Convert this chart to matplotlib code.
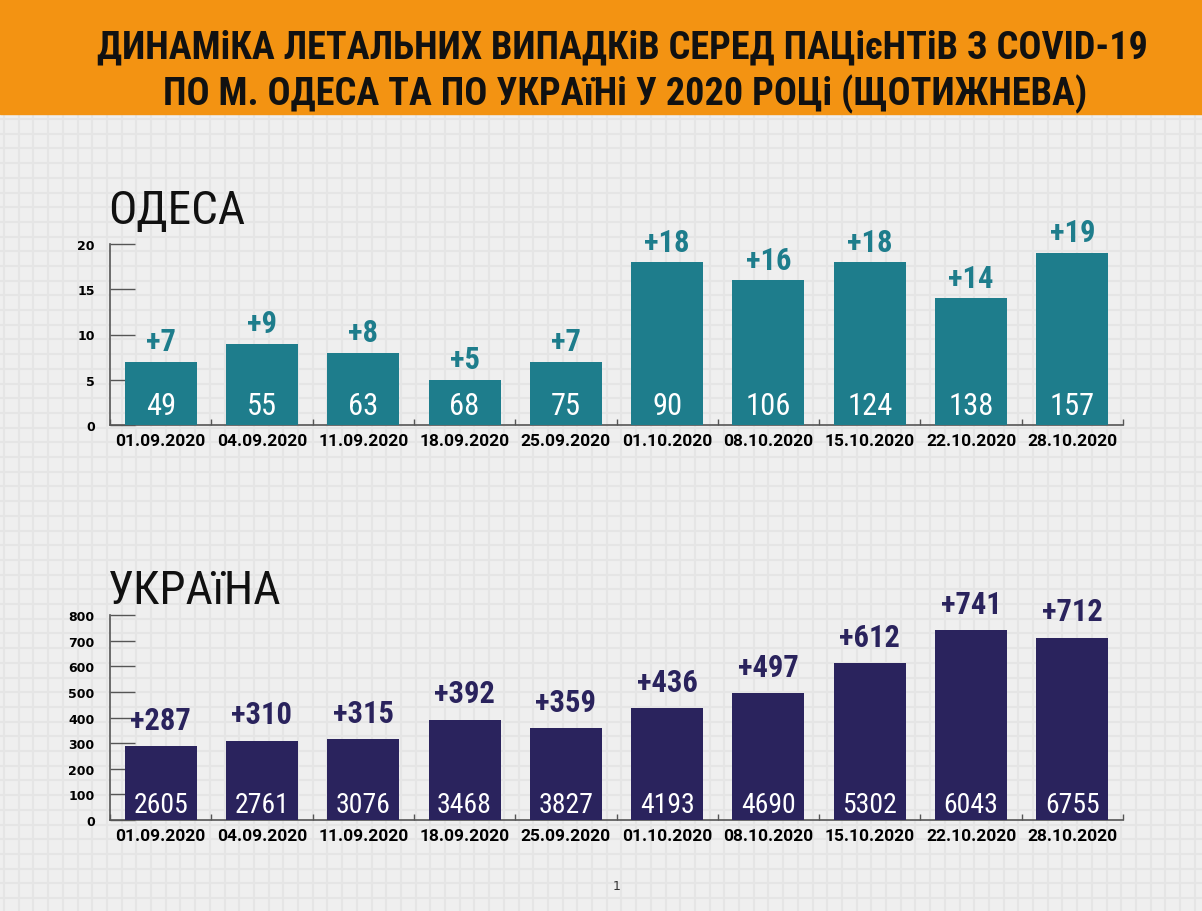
import numpy as np
import matplotlib
matplotlib.use('Agg')
import matplotlib.pyplot as plt
from matplotlib import font_manager as fm

dates = ['01.09.2020', '04.09.2020', '11.09.2020', '18.09.2020', '25.09.2020',
         '01.10.2020', '08.10.2020', '15.10.2020', '22.10.2020', '28.10.2020']
odesa_weekly = [7, 9, 8, 5, 7, 18, 16, 18, 14, 19]
odesa_total = [49, 55, 63, 68, 75, 90, 106, 124, 138, 157]
ukr_weekly = [287, 310, 315, 392, 359, 436, 497, 612, 741, 712]
ukr_total = [2605, 2761, 3076, 3468, 3827, 4193, 4690, 5302, 6043, 6755]
odesa_ticks = [0, 5, 10, 15, 20]
ukr_ticks = [0, 100, 200, 300, 400, 500, 600, 700, 800]

TITLE = ['ДИНАМіКА ЛЕТАЛЬНИХ ВИПАДКіВ СЕРЕД ПАЦієНТіВ З COVID-19',
         'ПО М. ОДЕСА ТА ПО УКРАїНі У 2020 РОЦі (ЩОТИЖНЕВА)']

names = {f.name for f in fm.fontManager.ttflist}
cond = [n for n in ('Roboto Condensed', 'Liberation Sans Narrow', 'Open Sans Condensed',
                    'Noto Sans Condensed', 'DejaVu Sans Condensed') if n in names]
NARROW = cond + ['DejaVu Sans']
LBL = ['Roboto', 'DejaVu Sans']
TEAL, NAVY, ORANGE = '#1E7D8C', '#2A235D', '#F39312'
BG, GRID = '#efefef', '#e5e5e5'

W, H = 1202, 912
fig = plt.figure(figsize=(W / 100, H / 100), dpi=100, facecolor=BG)

# background: squared paper + orange header
bg = fig.add_axes([0, 0, 1, 1], zorder=-5)
bg.set_xlim(0, W); bg.set_ylim(H, 0); bg.axis('off')
for gx in np.arange(4, W, 14.7):
    bg.axvline(gx, color=GRID, lw=1.5, zorder=1)
for gy in np.arange(120, H, 14.7):
    bg.axhline(gy, color=GRID, lw=1.5, zorder=1)
bg.axhspan(0, 115, color=ORANGE, zorder=2)
kw = dict(family=NARROW, fontstretch='condensed', color='#111111', zorder=3)
bg.text(622, 58, TITLE[0], ha='center', va='baseline', fontsize=27.5,
        fontweight='bold', **kw)
bg.text(625, 105, TITLE[1], ha='center', va='baseline', fontsize=27.5,
        fontweight='bold', **kw)
bg.text(108, 224, 'ОДЕСА', ha='left', va='baseline', fontsize=34, **kw)
bg.text(108, 604, 'УКРАїНА', ha='left', va='baseline', fontsize=34, **kw)
bg.text(617, 890, '1', ha='center', va='baseline', fontsize=9, color='#333333')


def panel(rect, weekly, total, ticks, color, ymax, top_pad, in_pad, in_size):
    l, t, r, b = rect
    ax = fig.add_axes([l / W, 1 - b / H, (r - l) / W, (b - t) / H])
    ax.patch.set_alpha(0)
    x = np.arange(len(dates))
    bars = ax.bar(x, weekly, width=0.71, color=color, zorder=3)
    ax.set_xlim(-0.5, len(dates) - 0.5)
    ax.set_ylim(0, ymax)
    ax.set_yticks(ticks)
    ax.set_yticklabels([str(v) for v in ticks], fontsize=9, fontweight='bold',
                       family='DejaVu Sans')
    ax.set_xticks(x)
    ax.set_xticklabels(dates, fontsize=12.5, fontweight='bold', family=LBL)
    ax.set_xticks(np.arange(-0.5, len(dates), 1), minor=True)
    ax.tick_params(axis='x', which='major', length=0, pad=6)
    ax.tick_params(axis='x', which='minor', direction='in', length=4,
                   color='#555555', width=1)
    ax.tick_params(axis='y', direction='in', length=18, width=1,
                   color='#555555', pad=11)
    for s in ('top', 'right'):
        ax.spines[s].set_visible(False)
    for s in ('left', 'bottom'):
        ax.spines[s].set_color('#555555')
        ax.spines[s].set_linewidth(1.2)
    for bar, w, tot in zip(bars, weekly, total):
        cx = bar.get_x() + bar.get_width() / 2
        ax.annotate(f'+{w}', (cx, bar.get_height()), xytext=(0, top_pad),
                    textcoords='offset points', ha='center', va='bottom',
                    fontsize=22, fontweight='bold', family=NARROW,
                    fontstretch='condensed', color=color, zorder=4)
        ax.annotate(str(tot), (cx, 0), xytext=(0, in_pad),
                    textcoords='offset points', ha='center', va='baseline',
                    fontsize=in_size, family=NARROW, fontstretch='condensed',
                    color='white', zorder=4)
    return ax


panel((110, 245, 1123, 426), odesa_weekly, odesa_total, odesa_ticks, TEAL, 20, 4, 8, 22)
panel((110, 616, 1123, 821), ukr_weekly, ukr_total, ukr_ticks, NAVY, 800, 8, 6, 20)

fig.savefig('out.png', dpi=100, facecolor=BG)
